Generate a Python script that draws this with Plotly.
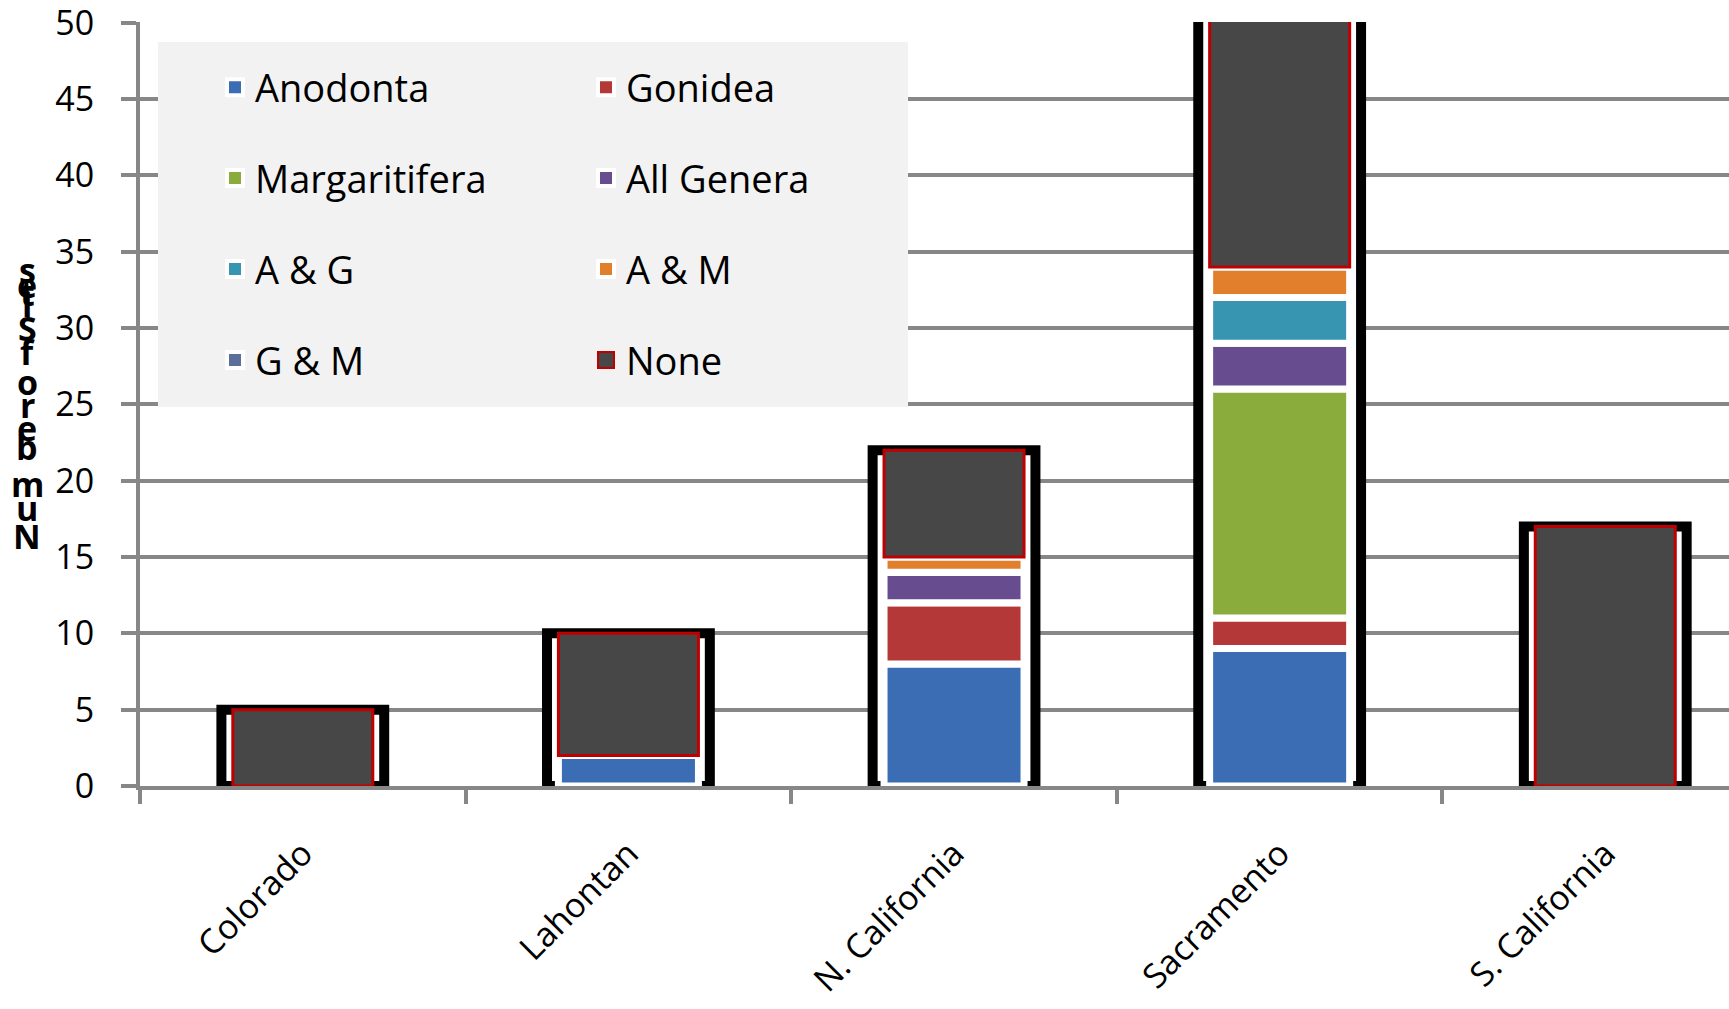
import plotly.graph_objects as go

# Regions (x categories)
regions = ["Colorado", "Lahontan", "N. California", "Sacramento", "S. California"]

# Number of sites per genus combination, stacked bottom to top
anodonta = [0, 2, 8, 9, 0]
gonidea = [0, 0, 4, 2, 0]
margaritifera = [0, 0, 0, 15, 0]
all_genera = [0, 0, 2, 3, 0]
a_and_g = [0, 0, 0, 3, 0]
a_and_m = [0, 0, 1, 2, 0]
g_and_m = [0, 0, 0, 0, 0]
none = [5, 8, 7, 20, 17]

y_ticks = [0, 5, 10, 15, 20, 25, 30, 35, 40, 45, 50]

series = [
    ("Anodonta", anodonta, "#3a6db4", "legend"),
    ("Gonidea", gonidea, "#b33837", "legend2"),
    ("Margaritifera", margaritifera, "#8aac3c", "legend"),
    ("All Genera", all_genera, "#674d8f", "legend2"),
    ("A & G", a_and_g, "#3795b1", "legend"),
    ("A & M", a_and_m, "#e27f2c", "legend2"),
    ("G & M", g_and_m, "#5b6f98", "legend"),
    ("None", none, "#474747", "legend2"),
]

GRID = "#878787"
FONT = "Open Sans"

fig = go.Figure()

# totals for the framed backdrop behind each stack
totals = [sum(vals) for vals in zip(*[s[1] for s in series])]
fig.add_trace(go.Bar(
    x=regions, y=totals, base=[0] * len(regions), width=0.50,
    marker=dict(color="white", line=dict(color="black", width=10)),
    showlegend=False, hoverinfo="skip",
))

running = [0] * len(regions)
for name, vals, color, leg in series:
    is_none = name == "None"
    fig.add_trace(go.Bar(
        x=regions, y=vals, base=list(running), width=0.43, name=name,
        marker=dict(color=color,
                    line=dict(color="#c00000" if is_none else "white",
                              width=3 if is_none else 7)),
        showlegend=False, legendgroup=name,
    ))
    running = [r + v for r, v in zip(running, vals)]

# legend keys (larger square swatches than the bar default)
for name, vals, color, leg in series:
    is_none = name == "None"
    fig.add_trace(go.Scatter(
        x=[None], y=[None], mode="markers", name=name,
        marker=dict(symbol="square", size=16, color=color,
                    line=dict(color="#c00000" if is_none else "white",
                              width=2 if is_none else 4)),
        legend=leg, legendgroup=name, hoverinfo="skip",
    ))

# legend backdrop panel
fig.add_shape(type="rect", xref="paper", yref="paper",
              x0=(158 - 140) / 1589, x1=(908 - 140) / 1589,
              y0=(786 - 407) / 764, y1=(786 - 42) / 764,
              fillcolor="#f2f2f2", line=dict(width=0), layer="above")

# y-axis title: upright stacked characters
title_chars = [("s", 270), ("e", 285), ("t", 293), ("i", 304), ("S", 328),
               ("f", 352), ("o", 382), ("r", 405), ("e", 428), ("b", 447),
               ("m", 484), ("u", 508), ("N", 536)]
for ch, ypx in title_chars:
    fig.add_annotation(text=ch, xref="paper", yref="paper",
                       x=(27 - 140) / 1589, y=(786 - ypx) / 764,
                       xanchor="center", yanchor="middle", showarrow=False,
                       font=dict(family=FONT, size=34, color="black", weight="bold"))

legend_common = dict(
    bgcolor="rgba(0,0,0,0)", font=dict(family=FONT, size=38, color="black"),
    orientation="v", xanchor="left", yanchor="top", tracegroupgap=38.5,
    itemclick=False, itemdoubleclick=False,
)

fig.update_layout(
    width=1729, height=1009,
    margin=dict(l=140, r=0, t=22, b=223),
    paper_bgcolor="white", plot_bgcolor="white",
    barmode="overlay",
    legend=dict(x=(215 - 140) / 1589, y=(786 - 56) / 764, **legend_common),
    legend2=dict(x=(586 - 140) / 1589, y=(786 - 56) / 764, **legend_common),
    xaxis=dict(
        type="category", range=[-0.5, 4.38], automargin=False,
        showline=True, linecolor=GRID, linewidth=4,
        ticks="outside", tickson="boundaries", ticklen=14, tickwidth=4, tickcolor=GRID,
        tickangle=-45, tickfont=dict(family=FONT, size=34, color="black"),
        ticklabelstandoff=30, showgrid=False,
    ),
    yaxis=dict(
        range=[0, 50.05], tickvals=y_ticks, automargin=False,
        showline=True, linecolor=GRID, linewidth=4,
        ticks="outside", ticklen=15, tickwidth=4, tickcolor=GRID,
        showgrid=True, gridcolor=GRID, gridwidth=4, zeroline=False,
        tickfont=dict(family=FONT, size=34, color="black"),
        ticklabelstandoff=20, ticklabeloverflow="allow",
    ),
)

fig.write_html("out.html")
